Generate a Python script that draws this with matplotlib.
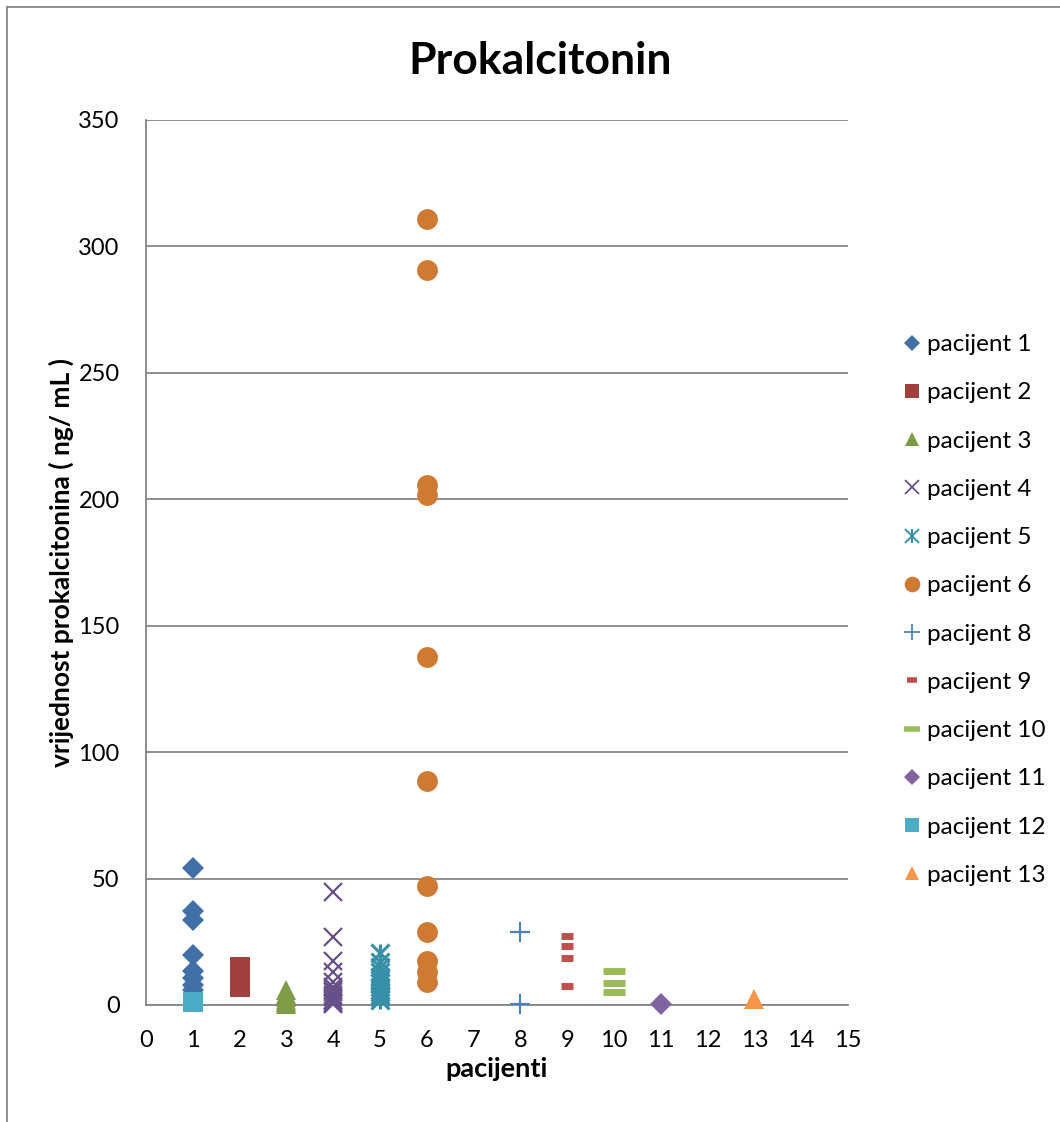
import matplotlib
matplotlib.use("Agg")
import matplotlib.pyplot as plt
from matplotlib.lines import Line2D
from matplotlib.legend_handler import HandlerTuple

plt.rcParams['font.family'] = ['Lato', 'DejaVu Sans']

# patient id on x axis, measured values on y axis
labels = ['pacijent 1', 'pacijent 2', 'pacijent 3', 'pacijent 4', 'pacijent 5',
          'pacijent 6', 'pacijent 8', 'pacijent 9', 'pacijent 10', 'pacijent 11',
          'pacijent 12', 'pacijent 13']
x_pos = [1, 2, 3, 4, 5, 6, 8, 9, 10, 11, 1, 13]

p1 = [54.3, 37.2, 33.6, 19.8, 13.4, 10.5, 7.9, 6.0]
p2 = [15.1, 7.2]
p3 = [6.0, 4.5, 3.0, 2.0, 1.0, 0.5]
p4 = [44.5, 27.0, 17.5, 13.0, 9.0, 7.0, 6.0, 5.0, 4.0, 3.0, 2.0, 1.5, 0.8, 0.3]
p5 = [20.5, 17.0, 15.0, 13.0, 11.0, 10.0, 8.5, 7.0, 6.0, 5.0, 4.0, 3.0, 2.0]
p6 = [311.0, 290.5, 205.5, 201.5, 137.5, 88.5, 47.0, 29.0, 17.5, 13.0, 9.0]
p8 = [28.7, 0.4]
p9 = [27.2, 23.2, 18.6, 7.6]
p10 = [13.3, 8.8, 5.3]
p11 = [0.2]
p12 = [1.3]
p13 = [2.5]
values = [p1, p2, p3, p4, p5, p6, p8, p9, p10, p11, p12, p13]

colors = ['#4170A8', '#A0403D', '#7E9C46', '#674F8A', '#3790A7', '#CE7A33',
          '#4F81BD', '#C0504D', '#9BBB59', '#8064A2', '#4BACC6', '#F79646']
# (marker, size, edge width)
styles = [('D', 11, 0), ('s', 14, 0), ('^', 14, 0), ('x', 13, 1.6), ('x', 13, 2.2),
          ('o', 15, 0), ('+', 15, 1.6), ('_', 9, 5), ('_', 16, 5), ('D', 11, 0),
          ('s', 14, 0), ('^', 14, 0)]

fig = plt.figure(figsize=(10.6, 11.22), dpi=100)
ax = fig.add_axes([0.1377, 0.1043, 0.6623, 0.7888])

handles = []
for i, (lab, xp, vals) in enumerate(zip(labels, x_pos, values)):
    m, ms, mew = styles[i]
    c = colors[i]
    if i == 4:
        # asterisk: x plus vertical bar
        for mk in ('x', '|'):
            ax.plot([xp] * len(vals), vals, linestyle='none', marker=mk, ms=ms,
                    mew=mew, color=c, zorder=3, clip_on=False)
        h = (Line2D([], [], linestyle='none', marker='x', ms=ms * 0.75, mew=1.4, color=c),
             Line2D([], [], linestyle='none', marker='|', ms=ms * 0.75, mew=1.4, color=c))
    else:
        ax.plot([xp] * len(vals), vals, linestyle='none', marker=m, ms=ms,
                mew=mew, color=c, mec=c, zorder=3, clip_on=False)
        if m == '_':
            h = Line2D([], [], linestyle='none', marker=m, ms=ms * 0.75, mew=4, color=c)
        else:
            h = Line2D([], [], linestyle='none', marker=m, ms=ms * 0.75,
                       mew=mew * 0.8, color=c, mec=c)
    handles.append(h)

ax.set_xlim(0, 15)
ax.set_ylim(0, 350)
ax.set_xticks(range(0, 16))
ax.set_yticks(range(0, 351, 50))
ax.tick_params(length=0, labelsize=17)
ax.tick_params(axis='x', pad=18)
ax.tick_params(axis='y', pad=19)
ax.yaxis.grid(True, color='#868686', lw=1.3)
ax.set_axisbelow(True)
for s in ['top', 'right']:
    ax.spines[s].set_visible(False)
for s in ['left', 'bottom']:
    ax.spines[s].set_color('#868686')
    ax.spines[s].set_linewidth(1.3)

fig.text(0.51, 0.946, 'Prokalcitonin', fontsize=32, fontweight='bold',
         ha='center', va='center')
ax.set_xlabel('pacijenti', fontsize=19.5, fontweight='bold', labelpad=4)
ax.set_ylabel('vrijednost prokalcitonina ( ng/ mL )', fontsize=19,
              fontweight='bold', labelpad=3)

fig.legend(handles, labels, loc='center left', bbox_to_anchor=(0.8386, 0.4563),
           frameon=False, fontsize=17.5, handlelength=0.9, handletextpad=0.15,
           labelspacing=1.12, borderpad=0,
           handler_map={tuple: HandlerTuple(ndivide=1)})

# outer chart border (left and top edges visible)
fig.add_artist(Line2D([0.0066, 0.0066], [0.0, 0.9938], transform=fig.transFigure,
                      color='#868686', lw=1.3))
fig.add_artist(Line2D([0.0066, 1.0], [0.9938, 0.9938], transform=fig.transFigure,
                      color='#868686', lw=1.3))

fig.savefig('out.png', dpi=100, facecolor='white')
